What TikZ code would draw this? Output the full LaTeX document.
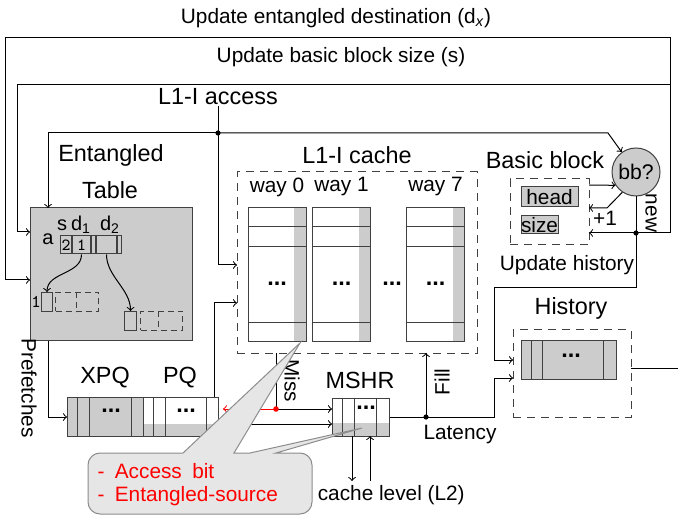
\documentclass[tikz,border=0pt]{standalone}
\usepackage{fontspec}
\setmainfont{Liberation Sans}
\usetikzlibrary{positioning,calc}

\definecolor{boxgray}{HTML}{CCCCCC}
\definecolor{edgegray}{HTML}{404040}
\definecolor{calloutgray}{HTML}{E6E6E6}

\tikzset{
  lblbig/.style={font=\fontsize{11.7}{14}\selectfont, inner sep=0pt},
  lblsmall/.style={font=\fontsize{10.4}{12.5}\selectfont, inner sep=0pt},
  lblhdr/.style={font=\fontsize{10}{12}\selectfont, inner sep=0pt},
  dots/.style={font=\fontsize{11.7}{14}\selectfont\bfseries, inner sep=0pt},
  dashbox/.style={draw=edgegray, dash pattern={on 4pt off 3pt}, inner sep=0pt},
  cell/.style={draw=edgegray, minimum height=9pt, inner sep=0pt, font=\ttfamily\fontsize{8.5}{9}\selectfont},
  ghostcell/.style={draw=edgegray, dash pattern={on 3pt off 2pt}, minimum height=9.5pt, inner sep=0pt},
  queue/.style={draw=edgegray, minimum height=19.5pt, inner sep=0pt},
  band/.style={path picture={\fill[boxgray] ($(path picture bounding box.south west)+(0,-#1)$) rectangle (path picture bounding box.south east);}},
  strip/.style={path picture={\fill[boxgray] ($(path picture bounding box.north east)+(-#1,0)$) rectangle (path picture bounding box.south east);}},
  tag/.style={draw=edgegray, fill=boxgray, inner sep=0pt, font=\fontsize{10.4}{12.5}\selectfont},
  callout/.style={draw=black!45, fill=calloutgray, line width=0.5pt},
  jdot/.style={fill=black},
}

\begin{document}
\begin{tikzpicture}[x=0.5pt, y=-0.5pt, line width=0.5pt, >=to]
\useasboundingbox (0,0) rectangle (678,517);

\node[lblsmall] (updest) at (336,18) {Update entangled destination (d\textsubscript{\itshape x})};
\node[lblsmall] (upsize) at (341,57) {Update basic block size (s)};
\node[lblbig] (access) at (218,97) {L1-I access};

\node[draw=edgegray, fill=boxgray, minimum width=81pt, minimum height=66.5pt, inner sep=0pt] (et) at (111,274.5) {};
\node[lblbig] (etname) at (111,155) {Entangled};
\node[lblbig] (ettable) at (110,190) {Table};
\node[lblhdr] (hs) at (62,225) {s};
\node[lblhdr] (hd1) at (81,225) {d\textsubscript{1}};
\node[lblhdr] (hd2) at (110,225) {d\textsubscript{2}};
\node[lblhdr] (ha) at (48,239) {a};
\node[cell, minimum width=5.5pt, anchor=west] (cs) at (60,245) {2};
\node[cell, minimum width=9pt, right=0pt of cs] (cd1) {1};
\node[cell, minimum width=2pt, right=0pt of cd1] (cd1c) {};
\node[cell, minimum width=10pt, right=0pt of cd1c] (cd2) {};
\node[cell, minimum width=2pt, right=0pt of cd2] (cd2c) {};
\node[font=\ttfamily\fontsize{9}{10}\selectfont, inner sep=0pt] (r1lbl) at (36,302) {1};
\node[cell, minimum width=5.5pt, minimum height=9.5pt, anchor=north west] (r1) at (41,292) {};
\node[ghostcell, minimum width=21.5pt, anchor=north west] (r1g) at (55,292) {};
\draw[edgegray, dash pattern={on 3pt off 2pt}] ($(r1g.north west)+(21,0)$) -- ($(r1g.south west)+(21,0)$);
\node[cell, minimum width=6pt, minimum height=9.5pt, anchor=north west] (r2) at (124,311) {};
\node[ghostcell, minimum width=21pt, anchor=north west] (r2g) at (140,311) {};
\draw[edgegray, dash pattern={on 3pt off 2pt}] ($(r2g.north west)+(18,0)$) -- ($(r2g.south west)+(18,0)$);
\draw[->] (cd1.south) .. controls +(0,20) and +(0,-20) .. (r1.north);
\draw[->] (cd2.south) .. controls +(0,22) and +(0,-22) .. (r2.north);

\node[dashbox, minimum width=120pt, minimum height=90.5pt] (cache) at (357,262.5) {};
\node[lblbig] (cachename) at (357,155) {L1-I cache};
\foreach \w/\cx in {0/277,1/341.5,7/435.5}{
  \node[draw=edgegray, strip=12, minimum width=29pt, minimum height=67pt, inner sep=0pt] (way\w) at (\cx,275) {};
  \foreach \dy in {19,39,115}
    \draw[edgegray] ($(way\w.north west)+(0,\dy)$) -- ($(way\w.north east)+(0,\dy)$);
  \node[dots] (wd\w) at (\cx,284) {...};
  \node[lblsmall] (wl\w) at (\cx,187) {way \w};
}
\node[dots] (wdots) at (392,284) {...};

\node[circle, draw=edgegray, fill=boxgray, minimum size=24pt, inner sep=0pt, font=\fontsize{10.6}{12}\selectfont] (bb) at (636,172) {bb?};
\node[lblbig] (bbname) at (545,160) {Basic block};
\node[dashbox, minimum width=39.5pt, minimum height=33pt] (uh) at (549.5,212) {};
\node[tag, minimum width=28.5pt, minimum height=10pt] (head) at (549.5,197) {head};
\node[tag, minimum width=18.5pt, minimum height=9pt] (size) at (539.5,225) {size};
\node[lblsmall] (uhname) at (567,265) {Update history};

\node[dashbox, minimum width=59pt, minimum height=43.5pt] (hist) at (572,373.5) {};
\node[queue, fill=boxgray, minimum width=47.5pt, minimum height=19pt] (hq) at (568.5,360) {};
\foreach \dx in {11,22,83}
  \draw[edgegray] ($(hq.north west)+(\dx,0)$) -- ($(hq.south west)+(\dx,0)$);
\node[dots] (hqd) at (571,356) {...};
\node[lblbig] (histname) at (571,308) {History};

\node[queue, fill=boxgray, minimum width=38pt] (xpq) at (105,416.5) {};
\foreach \dx in {11,23,65}
  \draw[edgegray] ($(xpq.north west)+(\dx,0)$) -- ($(xpq.south west)+(\dx,0)$);
\node[dots] (xpqd) at (111,411) {...};
\node[queue, band=12, minimum width=37.5pt] (pq) at (180.5,416.5) {};
\foreach \dx in {11,23,64}
  \draw[edgegray] ($(pq.north west)+(\dx,0)$) -- ($(pq.south west)+(\dx,0)$);
\node[dots] (pqd) at (186,411) {...};
\node[queue, band=13, minimum width=28.5pt, minimum height=19pt] (mshr) at (360.5,417) {};
\foreach \dx in {11,23,45}
  \draw[edgegray] ($(mshr.north west)+(\dx,0)$) -- ($(mshr.south west)+(\dx,0)$);
\node[dots] (mshrd) at (366,408) {...};
\node[lblbig] (xpqname) at (105,378) {XPQ};
\node[lblbig] (pqname) at (180,378) {PQ};
\node[lblbig] (mshrname) at (360,380) {MSHR};

\node[lblsmall, rotate=-90] (missname) at (292,381) {Miss};
\node[lblsmall, rotate=90] (fillname) at (442,382) {Fill};
\node[lblsmall, rotate=-90] (newname) at (651,213) {new};
\node[lblsmall] (plusone) at (605,218) {+1};
\node[lblsmall] (latency) at (460,435) {Latency};
\node[lblsmall, rotate=-90] (prefetch) at (29,388) {Prefetches};
\node[lblsmall] (nextlvl) at (367,495) {Next cache level (L2)};

\coordinate (jacc) at (218,133);
\coordinate (etTop) at (48,208);
\coordinate (cacheInA) at (237,265);
\coordinate (bbturn) at (608,133);
\coordinate (pqTop) at (214,397);
\coordinate (cacheInB) at (237,303);
\coordinate (missTop) at (276,353);
\coordinate (jmiss) at (276,409);
\coordinate (mshrInA) at (332,409);
\coordinate (pqOutA) at (223,409);
\coordinate (pqOutB) at (218,424);
\coordinate (mshrInB) at (332,424);
\coordinate (etBot) at (48,341);
\coordinate (xpqIn) at (67,417);
\coordinate (jfill) at (426,417);
\coordinate (fillTop) at (426,353);
\coordinate (latturn) at (494,417);
\coordinate (histInB) at (513,378);
\coordinate (mshrDn) at (352,436);
\coordinate (l2Dn) at (352,481);
\coordinate (l2Up) at (370,481);
\coordinate (mshrUp) at (370,436);
\coordinate (jnew) at (636,233);
\coordinate (uhNew) at (589,233);
\coordinate (hturn) at (494,288);
\coordinate (histInA) at (513,360);
\coordinate (rtop) at (670,38);
\coordinate (ltop) at (5,38);
\coordinate (etInA) at (30,280);
\coordinate (rmid) at (670,85);
\coordinate (lmid) at (17,85);
\coordinate (etInB) at (30,232);
\coordinate (uhOut) at (589,185);
\coordinate (plusTurn) at (607,208);
\coordinate (uhPlus) at (589,208);
\coordinate (histOut) at (631,368);
\coordinate (histEnd) at (678,368);

\draw (access) -- (jacc);
\draw[->] (jacc) -| (etTop);
\draw[->] (jacc) |- (cacheInA);
\draw[->] (jacc) -- (bbturn) -- (bb);
\draw[->] (pqTop) |- (cacheInB);
\draw (missTop) -- (jmiss);
\draw[->] (jmiss) -- (mshrInA);
\draw[->, red] (jmiss) -- (pqOutA);
\draw[->] (pqOutB) -- (mshrInB);
\draw[->] (etBot) |- (xpqIn);
\draw (mshr) -- (jfill);
\draw[->] (jfill) -- (fillTop);
\draw[->] (jfill) -- (latturn) |- (histInB);
\draw[->] (mshrDn) -- (l2Dn);
\draw[->] (l2Up) -- (mshrUp);
\draw (bb) -- (jnew);
\draw[->] (jnew) -- (uhNew);
\draw[->] (jnew) |- (hturn) |- (histInA);
\draw[->] (jnew) -| (rtop) -- (ltop) |- (etInA);
\draw[->] (rmid) -- (lmid) |- (etInB);
\draw[->] (uhOut) -- (bb.213);
\draw[->] (bb.236) -- (plusTurn) -- (uhPlus);
\draw (histOut) -- (histEnd);
\fill[jdot] (jacc) circle (1.3pt);
\fill[jdot] (jnew) circle (1.3pt);
\fill[jdot] (jfill) circle (1.3pt);
\fill[red] (jmiss) circle (1.4pt);

\draw[callout] (88,514) [rounded corners=6pt] -- (88,453) [sharp corners] -- (183,453) -- (300,343) -- (234,453) -- (250,453) -- (362,428) -- (276,453) [rounded corners=6pt] -- (312,453) -- (312,514) -- cycle;
\node[lblsmall, text=red, anchor=west] (cl1) at (97,471) {-\enspace Access\enspace bit};
\node[lblsmall, text=red, anchor=west] (cl2) at (97,496) {-\enspace Entangled-source};
\end{tikzpicture}
\end{document}
